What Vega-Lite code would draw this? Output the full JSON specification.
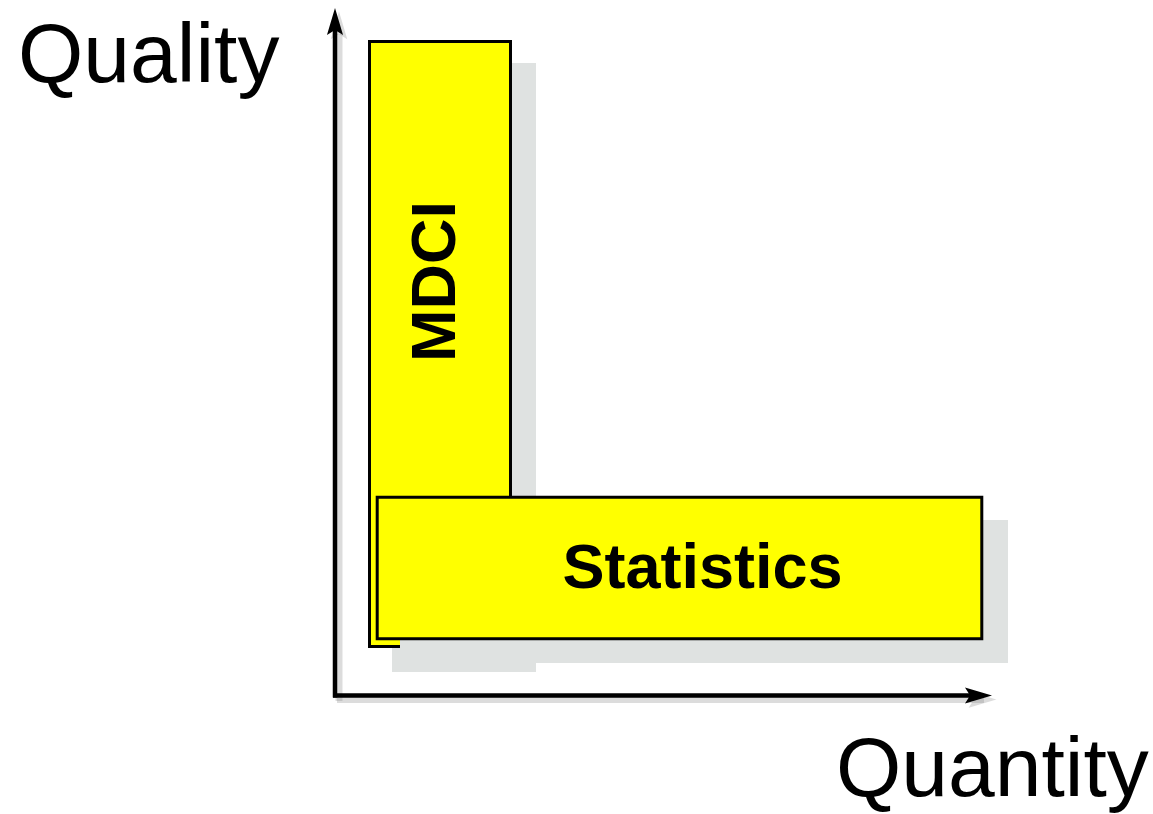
{
  "$schema": "https://vega.github.io/schema/vega-lite/v6.json",
  "width": 1153,
  "height": 814,
  "autosize": "none",
  "padding": 0,
  "background": "white",
  "config": {"view": {"stroke": null}},
  "datasets": {
    "boxes": [
      {"part": "MDCI shadow", "x": 392, "x2": 536, "y": 63, "y2": 672},
      {"part": "MDCI", "x": 369.5, "x2": 510.5, "y": 41.5, "y2": 646.5},
      {"part": "Statistics shadow", "x": 400, "x2": 1008, "y": 520, "y2": 663},
      {"part": "Statistics", "x": 377.2, "x2": 981.8, "y": 497.2, "y2": 638.8}
    ],
    "axes": [
      {"axis": "Quality", "x": 335, "x2": 335, "y": 30, "y2": 697.5, "sx": 339, "sx2": 339, "sy": 34, "sy2": 701},
      {"axis": "Quantity", "x": 333, "x2": 980, "y": 695.5, "y2": 695.5, "sx": 337, "sx2": 984, "sy": 699.5, "sy2": 699.5}
    ],
    "heads": [
      {"axis": "Quality", "x": 335, "y": 22.6, "sx": 339, "sy": 26.6},
      {"axis": "Quantity", "x": 977.4, "y": 695.5, "sx": 981.4, "sy": 699.5}
    ],
    "labels": [
      {"label": "Quality", "x": 18, "y": 82},
      {"label": "Quantity", "x": 836, "y": 796}
    ],
    "boxlabels": [
      {"label": "MDCI", "x": 455, "y": 281.5, "angle": 270},
      {"label": "Statistics", "x": 702.5, "y": 588, "angle": 0}
    ]
  },
  "resolve": {"scale": {"x": "shared", "y": "shared"}},
  "layer": [
    {
      "data": {"name": "axes"},
      "mark": {"type": "rule", "color": "#8a8a8a", "strokeWidth": 7, "opacity": 0.3},
      "encoding": {
        "x": {"field": "sx", "type": "quantitative", "scale": {"domain": [0, 1153], "nice": false, "zero": false}, "axis": null},
        "x2": {"field": "sx2"},
        "y": {"field": "sy", "type": "quantitative", "scale": {"domain": [0, 814], "nice": false, "zero": false, "reverse": true}, "axis": null},
        "y2": {"field": "sy2"}
      }
    },
    {
      "data": {"name": "heads"},
      "mark": {"type": "point", "filled": true, "color": "#8a8a8a", "opacity": 0.3, "size": 900, "strokeWidth": 0},
      "encoding": {
        "x": {"field": "sx", "type": "quantitative"},
        "y": {"field": "sy", "type": "quantitative"},
        "shape": {"field": "axis", "type": "nominal", "legend": null, "scale": {"domain": ["Quality", "Quantity"], "range": ["M0,-1L0.55,0.85L0,0.5L-0.55,0.85Z", "M1,0L-0.85,0.55L-0.5,0L-0.85,-0.55Z"]}}
      }
    },
    {
      "data": {"name": "axes"},
      "mark": {"type": "rule", "color": "black", "strokeWidth": 4.5},
      "encoding": {
        "x": {"field": "x", "type": "quantitative"},
        "x2": {"field": "x2"},
        "y": {"field": "y", "type": "quantitative"},
        "y2": {"field": "y2"}
      }
    },
    {
      "data": {"name": "heads"},
      "mark": {"type": "point", "filled": true, "color": "black", "opacity": 1, "size": 853, "strokeWidth": 0},
      "encoding": {
        "x": {"field": "x", "type": "quantitative"},
        "y": {"field": "y", "type": "quantitative"},
        "shape": {"field": "axis", "type": "nominal", "legend": null}
      }
    },
    {
      "data": {"name": "boxes"},
      "transform": [{"filter": "datum.part === 'MDCI shadow'"}],
      "mark": {"type": "rect", "color": "#dfe2e1"},
      "encoding": {
        "x": {"field": "x", "type": "quantitative"},
        "x2": {"field": "x2"},
        "y": {"field": "y", "type": "quantitative"},
        "y2": {"field": "y2"}
      }
    },
    {
      "data": {"name": "boxes"},
      "transform": [{"filter": "datum.part === 'MDCI'"}],
      "mark": {"type": "rect", "fill": "#ffff00", "stroke": "black", "strokeWidth": 3},
      "encoding": {
        "x": {"field": "x", "type": "quantitative"},
        "x2": {"field": "x2"},
        "y": {"field": "y", "type": "quantitative"},
        "y2": {"field": "y2"}
      }
    },
    {
      "data": {"name": "boxes"},
      "transform": [{"filter": "datum.part === 'Statistics shadow'"}],
      "mark": {"type": "rect", "color": "#dfe2e1"},
      "encoding": {
        "x": {"field": "x", "type": "quantitative"},
        "x2": {"field": "x2"},
        "y": {"field": "y", "type": "quantitative"},
        "y2": {"field": "y2"}
      }
    },
    {
      "data": {"name": "boxes"},
      "transform": [{"filter": "datum.part === 'Statistics'"}],
      "mark": {"type": "rect", "fill": "#ffff00", "stroke": "black", "strokeWidth": 3},
      "encoding": {
        "x": {"field": "x", "type": "quantitative"},
        "x2": {"field": "x2"},
        "y": {"field": "y", "type": "quantitative"},
        "y2": {"field": "y2"}
      }
    },
    {
      "data": {"name": "boxlabels"},
      "mark": {"type": "text", "font": "Liberation Sans", "fontWeight": "bold", "fontSize": 63, "align": "center", "baseline": "alphabetic", "color": "black"},
      "encoding": {
        "x": {"field": "x", "type": "quantitative"},
        "y": {"field": "y", "type": "quantitative"},
        "angle": {"field": "angle", "type": "quantitative", "scale": null},
        "text": {"field": "label", "type": "nominal"}
      }
    },
    {
      "data": {"name": "labels"},
      "mark": {"type": "text", "font": "Liberation Sans", "fontSize": 84, "align": "left", "baseline": "alphabetic", "color": "black"},
      "encoding": {
        "x": {"field": "x", "type": "quantitative"},
        "y": {"field": "y", "type": "quantitative"},
        "text": {"field": "label", "type": "nominal"}
      }
    }
  ]
}
